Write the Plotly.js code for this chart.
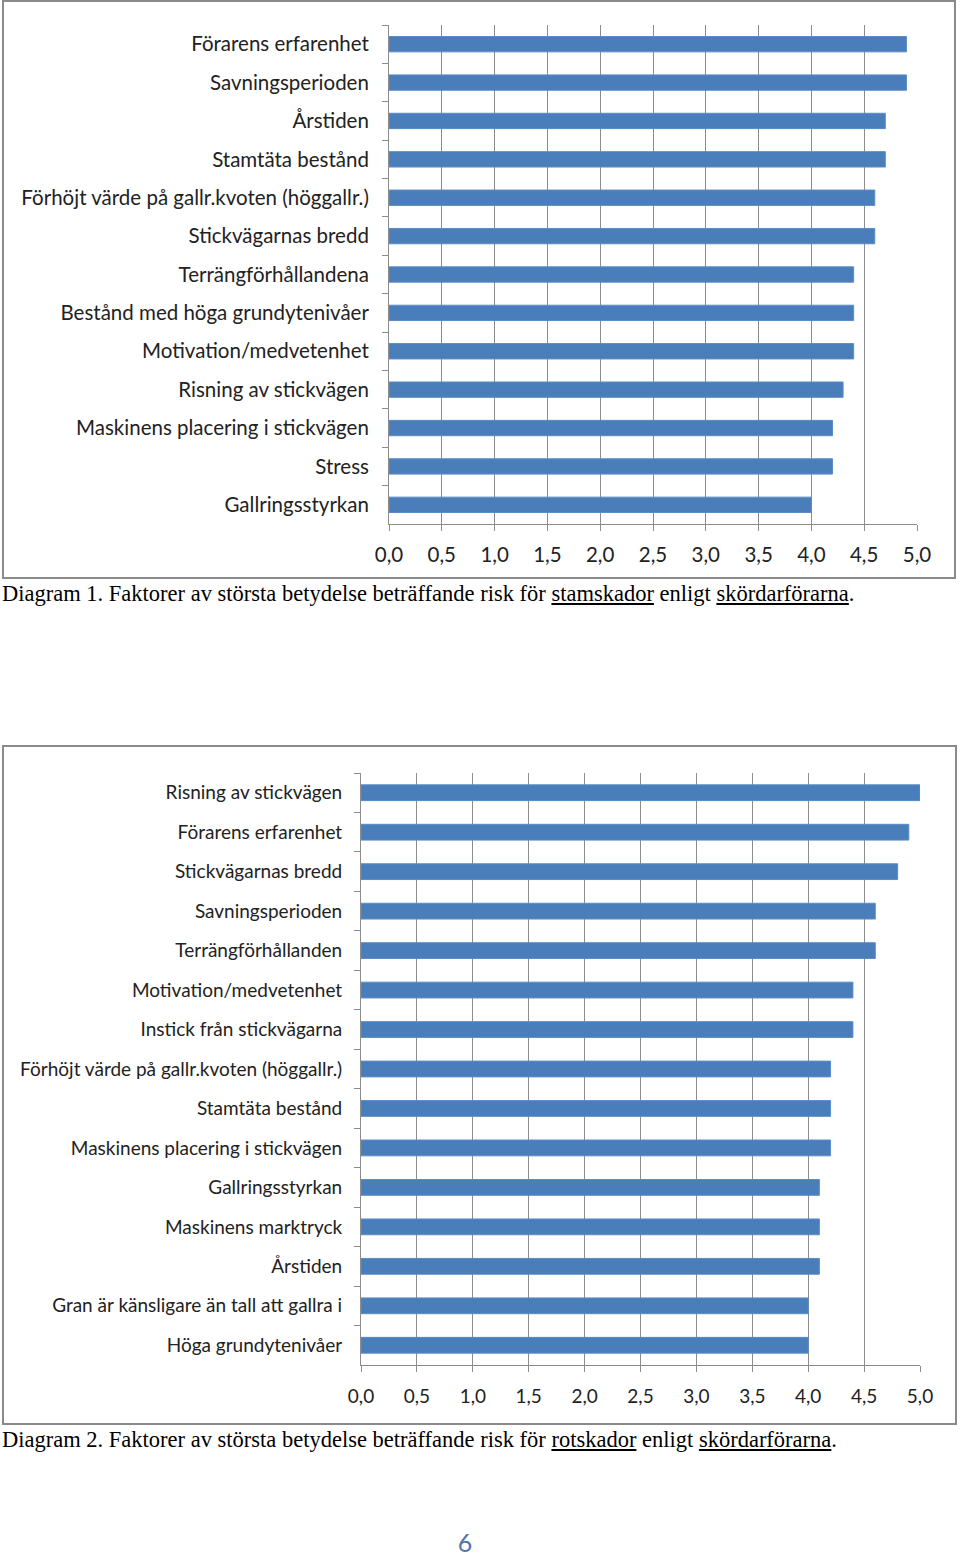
<!DOCTYPE html>
<html>
<head>
<meta charset="utf-8">
<script src="https://cdn.plot.ly/plotly-3.0.1.min.js"></script>
<style>
  body { margin: 0; width: 960px; height: 1555px; background: #fff; position: relative; overflow: hidden; }
  .box { position: absolute; border: 2px solid #8a8a8a; box-sizing: border-box; }
  .plot { position: absolute; }
  .cap { position: absolute; left: 2px; font-family: "Liberation Serif", "Times New Roman", serif;
         font-size: 22.5px; line-height: 26px; color: #000; white-space: nowrap; }
  #page { position: absolute; left: 0; width: 930px; top: 1530px; height: 24px; line-height: 24px; text-align: center;
          font-family: Lato, "Open Sans", sans-serif; font-size: 25px; color: #4f74ae; }
</style>
</head>
<body>
<div class="box" style="left:2px;top:0px;width:954px;height:579px;"></div>
<div id="chart1" class="plot" style="left:5px;top:2px;width:948px;height:574px;"></div>
<div class="cap" style="top:581px;">Diagram 1. Faktorer av största betydelse beträffande risk för <u>stamskador</u> enligt <u>skördarförarna</u>.</div>

<div class="box" style="left:2px;top:745px;width:955px;height:680px;"></div>
<div id="chart2" class="plot" style="left:5px;top:748px;width:949px;height:674px;"></div>
<div class="cap" style="top:1427px;">Diagram 2. Faktorer av största betydelse beträffande risk för <u>rotskador</u> enligt <u>skördarförarna</u>.</div>

<div id="page">6</div>

<script>
// Diagram 1 - stamskador (uppifrån och ned)
var factors1 = [
  'Förarens erfarenhet',
  'Savningsperioden',
  'Årstiden',
  'Stamtäta bestånd',
  'Förhöjt värde på gallr.kvoten (höggallr.)',
  'Stickvägarnas bredd',
  'Terrängförhållandena',
  'Bestånd med höga grundytenivåer',
  'Motivation/medvetenhet',
  'Risning av stickvägen',
  'Maskinens placering i stickvägen',
  'Stress',
  'Gallringsstyrkan'
];
var values1 = [4.9, 4.9, 4.7, 4.7, 4.6, 4.6, 4.4, 4.4, 4.4, 4.3, 4.2, 4.2, 4.0];

// Diagram 2 - rotskador
var factors2 = [
  'Risning av stickvägen',
  'Förarens erfarenhet',
  'Stickvägarnas bredd',
  'Savningsperioden',
  'Terrängförhållanden',
  'Motivation/medvetenhet',
  'Instick från stickvägarna',
  'Förhöjt värde på gallr.kvoten (höggallr.)',
  'Stamtäta bestånd',
  'Maskinens placering i stickvägen',
  'Gallringsstyrkan',
  'Maskinens marktryck',
  'Årstiden',
  'Gran är känsligare än tall att gallra i',
  'Höga grundytenivåer'
];
var values2 = [5.0, 4.9, 4.8, 4.6, 4.6, 4.4, 4.4, 4.2, 4.2, 4.2, 4.1, 4.1, 4.1, 4.0, 4.0];

var xTicks = [0, 0.5, 1, 1.5, 2, 2.5, 3, 3.5, 4, 4.5, 5];

function makeChart(id, cats, vals, opts) {
  var trace = {
    type: 'bar',
    orientation: 'h',
    y: cats,
    x: vals,
    marker: { color: '#4a7ebb', line: { color: '#5b8cc6', width: 1 } },
    hoverinfo: 'x+y'
  };
  var layout = {
    width: opts.w, height: opts.h,
    margin: opts.margin,
    separators: ',.',
    bargap: 0.6,
    showlegend: false,
    paper_bgcolor: '#fff',
    plot_bgcolor: '#fff',
    font: { family: opts.font, size: opts.size, color: '#222' },
    xaxis: {
      range: [0, 5],
      tickvals: xTicks,
      tickformat: '.1f',
      showgrid: true,
      gridcolor: '#8c8c8c',
      gridwidth: 1,
      showline: true,
      linecolor: '#8c8c8c',
      ticks: 'outside',
      ticklen: 6,
      tickcolor: '#8c8c8c',
      ticklabelstandoff: opts.xstand,
      zeroline: false,
      fixedrange: true
    },
    yaxis: {
      autorange: 'reversed',
      type: 'category',
      showline: true,
      linecolor: '#8c8c8c',
      ticks: 'outside',
      tickson: 'boundaries',
      ticklen: 6,
      tickcolor: '#8c8c8c',
      ticklabelstandoff: opts.ystand,
      showgrid: false,
      fixedrange: true
    }
  };
  Plotly.newPlot(id, [trace], layout, { displayModeBar: false, staticPlot: true });
}

makeChart('chart1', factors1, values1, {
  w: 948, h: 574,
  margin: { l: 384, r: 36, t: 23, b: 52, pad: 0 },
  font: 'Lato, "Open Sans", sans-serif', size: 20.5,
  xstand: 6, ystand: 15
});

makeChart('chart2', factors2, values2, {
  w: 949, h: 674,
  margin: { l: 356, r: 34, t: 25, b: 57, pad: 0 },
  font: 'Lato, "Open Sans", sans-serif', size: 19,
  xstand: 8, ystand: 14
});
</script>
</body>
</html>
